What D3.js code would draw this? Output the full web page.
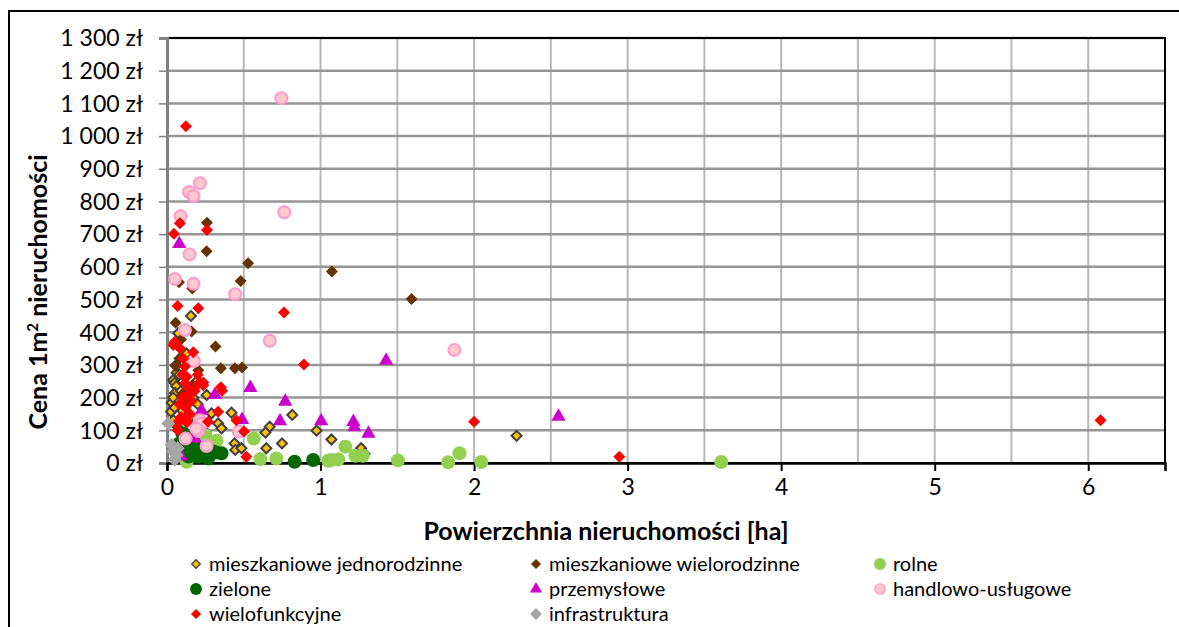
<!DOCTYPE html>
<html>
<head>
<meta charset="utf-8">
<script src="https://cdn.jsdelivr.net/npm/d3@7"></script>
<style>
  body { margin: 0; background: #fff; }
  text { font-family: Lato, "Open Sans", sans-serif; fill: #000; }
</style>
</head>
<body>
<svg id="chart" width="1179" height="627"></svg>
<script>
// [powierzchnia ha, cena zł/m2]
const jednorodzinne = [[0.156,450],[0.073,397],[0.128,335],[0.063,276],[0.041,254],[0.199,252],[0.05,245],[0.06,235],[0.052,214],[0.03,184],[0.026,157],[0.041,131],[0.258,208],[0.42,154],[0.29,152],[0.333,121],[0.355,106],[0.816,147],[0.974,99],[1.071,72],[0.669,111],[0.641,93],[0.749,60],[0.647,45],[0.44,60],[0.445,40],[0.485,45],[1.264,45],[1.286,28],[2.277,83],[0.06,300],[0.05,170],[0.09,220],[0.12,190],[0.1,160],[0.15,140],[0.2,130],[0.07,110],[0.13,90],[0.18,60],[0.22,75],[0.1,50],[0.25,95],[0.3,50],[0.04,200],[0.08,270],[0.15,230],[0.17,200],[0.11,120],[0.2,180]];
const wielorodzinne = [[0.26,735],[0.258,648],[0.528,611],[0.48,557],[0.078,553],[0.165,534],[1.074,586],[1.593,502],[0.056,429],[0.16,402],[0.091,378],[0.316,356],[0.056,297],[0.351,290],[0.442,290],[0.489,292],[0.204,284],[0.165,238],[0.1,210],[0.13,180],[0.08,320]];
const rolne = [[0.565,75],[0.323,68],[0.608,12],[0.712,14],[1.05,7],[1.115,11],[1.162,50],[1.227,22],[1.275,22],[1.07,9],[1.504,8],[1.831,2],[1.905,30],[2.047,3],[3.61,3],[0.128,4],[0.25,85],[0.2,40]];
const zielone = [[0.831,4],[0.952,9],[0.204,19],[0.268,14],[0.355,30],[0.1,90],[0.15,70],[0.12,50],[0.18,35],[0.25,25],[0.3,35],[0.08,60],[0.22,45],[0.06,40],[0.14,20],[0.32,32]];
const przemyslowe = [[0.08,670],[0.543,230],[0.312,208],[0.77,188],[0.225,160],[0.489,132],[0.736,128],[1.004,128],[1.214,126],[1.22,110],[1.312,90],[1.427,313],[2.55,142],[0.182,75],[0.1,130],[0.09,20]];
const handlowe = [[0.745,1116],[0.214,856],[0.143,829],[0.173,816],[0.089,755],[0.764,767],[0.147,638],[0.052,563],[0.173,548],[0.444,516],[0.117,407],[0.669,374],[0.175,312],[1.872,346],[0.214,131],[0.225,120],[0.468,96],[0.204,98],[0.121,75],[0.258,52],[0.19,105]];
const wielofunkcyjne = [[0.123,1030],[0.084,733],[0.26,713],[0.045,701],[0.069,480],[0.204,473],[0.762,460],[0.041,361],[0.084,351],[0.05,370],[0.171,339],[0.106,320],[0.117,295],[0.892,301],[0.128,264],[0.236,246],[0.351,232],[0.359,221],[0.117,244],[0.204,242],[0.236,238],[0.1,200],[0.14,210],[0.08,180],[0.12,170],[0.15,150],[0.09,140],[0.06,120],[0.13,125],[0.333,157],[0.268,126],[0.452,131],[0.502,96],[0.517,19],[2.0,126],[2.946,19],[6.08,131],[0.07,100],[0.16,190],[0.1,270],[0.14,230],[0.18,220],[0.2,270]];
const infrastruktura = [[0.008,121],[0.063,24],[0.04,35],[0.05,10],[0.03,55],[0.07,45]];

const seriesNames = ["mieszkaniowe jednorodzinne", "mieszkaniowe wielorodzinne", "rolne", "zielone", "przemysłowe", "handlowo-usługowe", "wielofunkcyjne", "infrastruktura"];
const xTicks = [0, 1, 2, 3, 4, 5, 6];
const yTicks = d3.range(0, 1301, 100);

const series = [
    { name: seriesNames[0], data: jednorodzinne, shape: "diamond", fill: "#FFC000", stroke: "#404040", sw: 2, size: 10 },
    { name: seriesNames[1], data: wielorodzinne, shape: "diamond", fill: "#663300", stroke: "none", sw: 0, size: 12 },
    { name: seriesNames[2], data: rolne, shape: "circle", fill: "#92D050", stroke: "none", sw: 0, size: 14 },
    { name: seriesNames[3], data: zielone, shape: "circle", fill: "#006600", stroke: "none", sw: 0, size: 14 },
    { name: seriesNames[4], data: przemyslowe, shape: "triangle", fill: "#CC00CC", stroke: "none", sw: 0, size: 14 },
    { name: seriesNames[5], data: handlowe, shape: "circle", fill: "#FFC7CE", stroke: "#FF99CC", sw: 2, size: 12 },
    { name: seriesNames[6], data: wielofunkcyjne, shape: "diamond", fill: "#FF0000", stroke: "none", sw: 0, size: 12 },
    { name: seriesNames[7], data: infrastruktura, shape: "diamond", fill: "#A6A6A6", stroke: "none", sw: 0, size: 14 }
];

const svg = d3.select("#chart");
const margin = { left: 167, top: 38, right: 1165, bottom: 463 };

// ramka wykresu
svg.append("rect")
    .attr("x", 9).attr("y", 11)
    .attr("width", 1200).attr("height", 700)
    .attr("fill", "none").attr("stroke", "#000").attr("stroke-width", 2);

const x = d3.scaleLinear().domain([0, 6.5]).range([margin.left, margin.right]);
const y = d3.scaleLinear().domain([0, 1300]).range([margin.bottom, margin.top]);

// siatka
svg.append("g").selectAll("line")
    .data(d3.range(0.5, 6.5, 0.5))
    .join("line")
    .attr("x1", d => x(d)).attr("x2", d => x(d))
    .attr("y1", margin.top).attr("y2", margin.bottom)
    .attr("stroke", "#B8B8B8").attr("stroke-width", 2);

svg.append("g").selectAll("line")
    .data(yTicks.slice(1))
    .join("line")
    .attr("x1", margin.left).attr("x2", margin.right)
    .attr("y1", d => y(d)).attr("y2", d => y(d))
    .attr("stroke", "#969696").attr("stroke-width", 2.5);

// obramowanie obszaru
svg.append("rect")
    .attr("x", margin.left).attr("y", margin.top)
    .attr("width", margin.right - margin.left).attr("height", margin.bottom - margin.top)
    .attr("fill", "none").attr("stroke", "#000").attr("stroke-width", 2);

// os Y
const yAxis = svg.append("g")
    .attr("transform", `translate(${margin.left},0)`)
    .call(d3.axisLeft(y).tickValues(yTicks).tickSize(8).tickPadding(16)
        .tickFormat(d => d3.format(",")(d).replace(/,/g, " ") + " zł"));
yAxis.select(".domain").attr("stroke", "#808080").attr("stroke-width", 3);
yAxis.selectAll(".tick line").attr("stroke", "#808080").attr("stroke-width", 1.5);
yAxis.selectAll(".tick text").attr("font-size", 23).attr("dy", "0.34em");

// os X
const xAxis = svg.append("g")
    .attr("transform", `translate(0,${margin.bottom})`)
    .call(d3.axisBottom(x).tickValues(xTicks).tickSize(8).tickPadding(8).tickFormat(d3.format("d")));
xAxis.select(".domain").attr("stroke", "#000").attr("stroke-width", 2.5);
xAxis.selectAll(".tick line").attr("stroke", "#000").attr("stroke-width", 2);
xAxis.selectAll(".tick text").attr("font-size", 23);

// tytuly osi
svg.append("text")
    .attr("x", 606).attr("y", 540)
    .attr("text-anchor", "middle")
    .attr("font-size", 25).attr("font-weight", "bold")
    .text("Powierzchnia nieruchomości [ha]");

const yTitle = svg.append("text")
    .attr("transform", "translate(47,292) rotate(-90)")
    .attr("text-anchor", "middle")
    .attr("font-size", 25).attr("font-weight", "bold");
yTitle.append("tspan").text("Cena 1m");
yTitle.append("tspan").attr("baseline-shift", "super").attr("font-size", 15).text("2");
yTitle.append("tspan").text(" nieruchomości");

const symbolOf = s => {
    const area = s.shape === "circle" ? Math.PI * (s.size / 2) ** 2
        : s.shape === "diamond" ? s.size * s.size / 2
        : s.size * s.size * 0.45;
    const type = s.shape === "circle" ? d3.symbolCircle : s.shape === "triangle" ? d3.symbolTriangle : d3.symbolSquare;
    return d3.symbol().type(type).size(area)();
};

// punkty
series.forEach(s => {
    svg.append("g").selectAll("path")
        .data(s.data)
        .join("path")
        .attr("d", symbolOf(s))
        .attr("transform", d => `translate(${x(d[0])},${y(d[1])})` + (s.shape === "diamond" ? " rotate(45)" : ""))
        .attr("fill", s.fill)
        .attr("stroke", s.stroke)
        .attr("stroke-width", s.sw);
});

// legenda
const legendCols = [196, 536, 880];
const legendRows = [564, 589, 614];
const legend = svg.append("g").selectAll("g")
    .data(series)
    .join("g")
    .attr("transform", (d, i) => `translate(${legendCols[i % 3]},${legendRows[Math.floor(i / 3)]})`);

legend.append("path")
    .attr("d", d => symbolOf({ ...d, size: d.size * 0.85 }))
    .attr("transform", d => d.shape === "diamond" ? "rotate(45)" : "")
    .attr("fill", d => d.fill)
    .attr("stroke", d => d.stroke)
    .attr("stroke-width", d => d.sw * 0.7);

legend.append("text")
    .attr("x", 13).attr("dy", "0.35em")
    .attr("font-size", 20)
    .text(d => d.name);
</script>
</body>
</html>
